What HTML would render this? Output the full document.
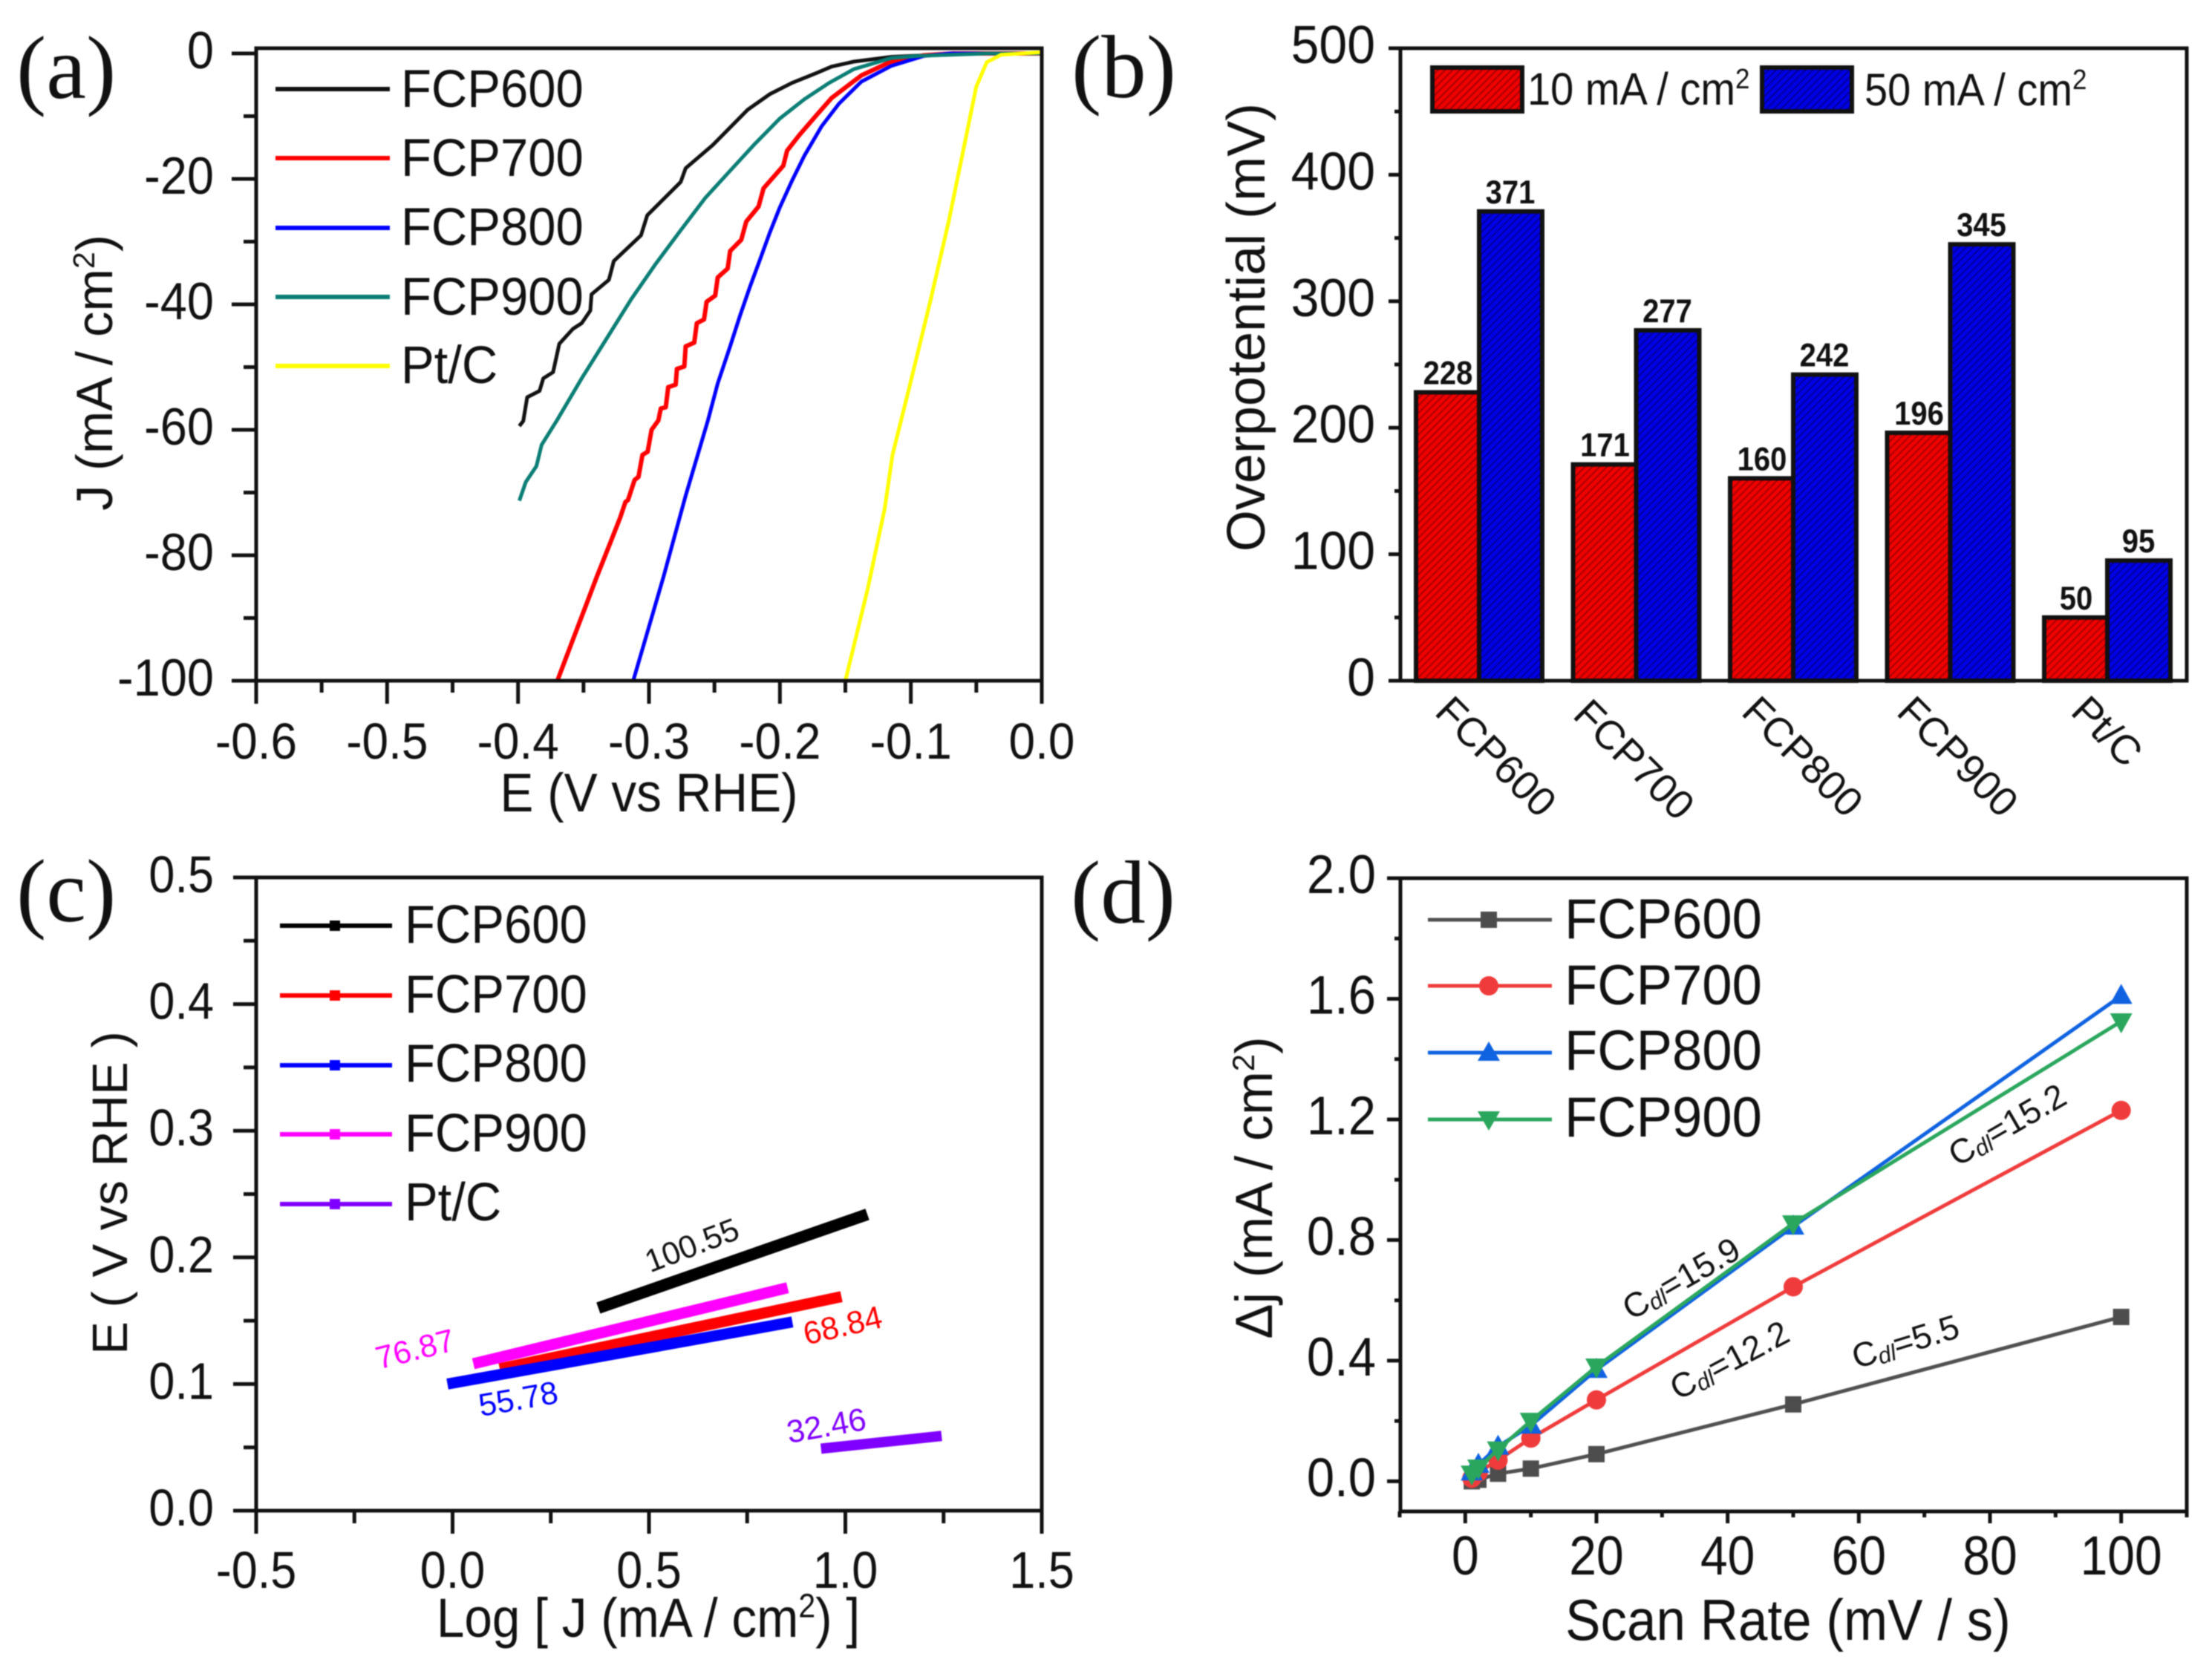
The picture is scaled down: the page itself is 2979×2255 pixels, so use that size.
<!DOCTYPE html>
<html lang="en">
<head>
<meta charset="utf-8">
<title>Electrocatalysis four-panel figure</title>
<style>
html,body{margin:0;padding:0;background:#fff;}
svg{display:block;filter:blur(0.7px);}
text{font-family:"Liberation Sans",sans-serif;fill:#111;}
.serif{font-family:"Liberation Serif",serif;font-size:121px;}
</style>
</head>
<body>
<svg id="figure" xmlns="http://www.w3.org/2000/svg" width="2979" height="2255" viewBox="0 0 2979 2255">
  <defs>
    <pattern id="hatch-red" width="7" height="7" patternUnits="userSpaceOnUse" patternTransform="rotate(45)">
      <rect width="7" height="7" fill="#f00000"></rect>
      <rect width="2" height="7" fill="#a80000"></rect>
    </pattern>
    <pattern id="hatch-blue" width="7" height="7" patternUnits="userSpaceOnUse" patternTransform="rotate(45)">
      <rect width="7" height="7" fill="#0000e6"></rect>
      <rect width="2" height="7" fill="#00009a"></rect>
    </pattern>
  </defs>
  <rect width="2979" height="2255" fill="#fff"></rect>

  <text class="serif" x="22" y="132">(a)</text>
  <text class="serif" x="1443" y="131">(b)</text>
  <text class="serif" x="22" y="1241">(c)</text>
  <text class="serif" x="1442" y="1243">(d)</text>

  <g id="panel-a"></g>
  <g id="panel-b"></g>
  <g id="panel-c"></g>
  <g id="panel-d"></g>

  <!-- Panel A static text and legend -->
  <text transform="translate(874,1093) scale(1,1.08)" text-anchor="middle" font-size="67.5">E (V vs RHE)</text>
  <text transform="translate(151,502) rotate(-90)" text-anchor="middle" font-size="69">J (mA / cm<tspan dy="-24" font-size="41">2</tspan><tspan dy="24">)</tspan></text>
  <g font-size="67" stroke-width="6">
    <line x1="371" x2="525" y1="120" y2="120" stroke="#111"></line>
    <text transform="translate(540,144) scale(1,1.06)">FCP600</text>
    <line x1="371" x2="525" y1="213" y2="213" stroke="#f00"></line>
    <text transform="translate(540,237) scale(1,1.06)">FCP700</text>
    <line x1="371" x2="525" y1="307" y2="307" stroke="#00f"></line>
    <text transform="translate(540,330) scale(1,1.06)">FCP800</text>
    <line x1="371" x2="525" y1="400" y2="400" stroke="#0a7d74"></line>
    <text transform="translate(540,424) scale(1,1.06)">FCP900</text>
    <line x1="371" x2="525" y1="493" y2="493" stroke="#ff0"></line>
    <text transform="translate(540,516) scale(1,1.06)">Pt/C</text>
  </g>

  <!-- Panel B static text and legend -->
  <text transform="translate(1703,441) rotate(-90)" text-anchor="middle" font-size="72">Overpotential (mV)</text>
  <g>
    <rect x="1929" y="91" width="121" height="59" fill="url(#hatch-red)" stroke="#111" stroke-width="6"></rect>
    <text transform="translate(2057,141) scale(1,1.09)" font-size="56">10 mA / cm<tspan dy="-20" font-size="35">2</tspan></text>
    <rect x="2373" y="91" width="121" height="59" fill="url(#hatch-blue)" stroke="#111" stroke-width="6"></rect>
    <text transform="translate(2511,142) scale(1,1.09)" font-size="56">50 mA / cm<tspan dy="-20" font-size="35">2</tspan></text>
  </g>
  <g font-size="55" text-anchor="middle" dominant-baseline="central">
    <text transform="translate(2015,1019) rotate(45)">FCP600</text>
    <text transform="translate(2201,1023) rotate(45)">FCP700</text>
    <text transform="translate(2428,1019) rotate(45)">FCP800</text>
    <text transform="translate(2637,1019) rotate(45)">FCP900</text>
    <text transform="translate(2838,985) rotate(45)">Pt/C</text>
  </g>

  <!-- Panel C static text and legend -->
  <text transform="translate(873,2205) scale(1,1.1)" text-anchor="middle" font-size="67.5">Log [ J (mA / cm<tspan dy="-24" font-size="41">2</tspan><tspan dy="24">) ]</tspan></text>
  <text transform="translate(171,1607) rotate(-90)" text-anchor="middle" font-size="67">E ( V vs RHE )</text>
  <g font-size="67" stroke-width="6">
    <line x1="377" x2="528" y1="1247" y2="1247" stroke="#000"></line>
    <rect x="444" y="1240" width="14" height="14" fill="#000"></rect>
    <text transform="translate(545,1270) scale(1,1.08)">FCP600</text>
    <line x1="377" x2="528" y1="1341" y2="1341" stroke="#f00"></line>
    <rect x="444" y="1334" width="14" height="14" fill="#f00"></rect>
    <text transform="translate(545,1364) scale(1,1.08)">FCP700</text>
    <line x1="377" x2="528" y1="1435" y2="1435" stroke="#00f"></line>
    <rect x="444" y="1428" width="14" height="14" fill="#00f"></rect>
    <text transform="translate(545,1457) scale(1,1.08)">FCP800</text>
    <line x1="377" x2="528" y1="1528" y2="1528" stroke="#f0f"></line>
    <rect x="444" y="1521" width="14" height="14" fill="#f0f"></rect>
    <text transform="translate(545,1551) scale(1,1.08)">FCP900</text>
    <line x1="377" x2="528" y1="1622" y2="1622" stroke="#7f00ff"></line>
    <rect x="444" y="1615" width="14" height="14" fill="#7f00ff"></rect>
    <text transform="translate(545,1644) scale(1,1.08)">Pt/C</text>
  </g>
  <g font-size="43" text-anchor="middle" dominant-baseline="central">
    <text transform="translate(932,1678) rotate(-21)" style="fill:#111">100.55</text>
    <text transform="translate(559,1818) rotate(-14)" style="fill:#f0f">76.87</text>
    <text transform="translate(1135,1786) rotate(-13)" style="fill:#f00">68.84</text>
    <text transform="translate(698,1885) rotate(-10)" style="fill:#00f">55.78</text>
    <text transform="translate(1113,1921) rotate(-10)" style="fill:#7f00ff">32.46</text>
  </g>

  <!-- Panel D static text and legend -->
  <text transform="translate(2408,2209) scale(1,1.1)" text-anchor="middle" font-size="71">Scan Rate (mV / s)</text>
  <text transform="translate(1713,1600) rotate(-90)" text-anchor="middle" font-size="70.5">Δj (mA / cm<tspan dy="-24" font-size="42">2</tspan><tspan dy="24">)</tspan></text>
  <g font-size="72.5" stroke-width="5">
    <line x1="1923" x2="2090" y1="1239" y2="1239" stroke="#505050"></line>
    <rect x="1994" y="1228" width="22" height="22" fill="#4d4d4d"></rect>
    <text transform="translate(2107,1264) scale(1,1.05)">FCP600</text>
    <line x1="1923" x2="2090" y1="1328" y2="1328" stroke="#ef3b3b"></line>
    <circle cx="2005" cy="1328" r="13" fill="#ef3b3b"></circle>
    <text transform="translate(2107,1353) scale(1,1.05)">FCP700</text>
    <line x1="1923" x2="2090" y1="1418" y2="1418" stroke="#0f62e0"></line>
    <polygon points="2005,1403 2020,1429 1990,1429" fill="#0f62e0"></polygon>
    <text transform="translate(2107,1441) scale(1,1.05)">FCP800</text>
    <line x1="1923" x2="2090" y1="1508" y2="1508" stroke="#2aa65d"></line>
    <polygon points="1990,1497 2020,1497 2005,1523" fill="#2aa65d"></polygon>
    <text transform="translate(2107,1531) scale(1,1.05)">FCP900</text>
  </g>
  <g font-size="46" text-anchor="middle" dominant-baseline="central">
    <text transform="translate(2264,1722) rotate(-30)">C<tspan dy="9" font-size="31" font-style="italic">dl</tspan><tspan dy="-9">=15.9</tspan></text>
    <text transform="translate(2703,1515) rotate(-30)">C<tspan dy="9" font-size="31" font-style="italic">dl</tspan><tspan dy="-9">=15.2</tspan></text>
    <text transform="translate(2329,1832) rotate(-28)">C<tspan dy="9" font-size="31" font-style="italic">dl</tspan><tspan dy="-9">=12.2</tspan></text>
    <text transform="translate(2566,1807) rotate(-17)">C<tspan dy="9" font-size="31" font-style="italic">dl</tspan><tspan dy="-9">=5.5</tspan></text>
  </g>
</svg>

<script>
/* ---------- Panel A data: E (V) and J (mA/cm2) ---------- */
const aFcp600E = [-0.399,-0.396,-0.393,-0.3836,-0.3807,-0.3732,-0.3685,-0.3581,-0.3514,-0.3448,-0.3439,-0.3306,-0.3269,-0.3061,-0.3013,-0.2758,-0.2720,-0.2513,-0.2305,-0.2248,-0.2078,-0.1908,-0.1718,-0.1605,-0.1435,-0.1151,-0.068,0];
const aFcp600J = [-59.4,-58.6,-54.8,-53.8,-51.8,-50.8,-46.3,-43.9,-43.0,-41.0,-38.4,-36.1,-33.1,-29.0,-25.8,-20.5,-18.3,-14.6,-10.2,-9.0,-6.5,-4.7,-3.1,-2.1,-1.3,-0.55,-0.1,0];
const aFcp700E = [-0.370,-0.360,-0.348,-0.340,-0.329,-0.322,-0.318,-0.316,-0.311,-0.308,-0.305,-0.301,-0.298,-0.2928,-0.2910,-0.2872,-0.2853,-0.2796,-0.2787,-0.2730,-0.2720,-0.2654,-0.2635,-0.2579,-0.2560,-0.2494,-0.2475,-0.2399,-0.2380,-0.2295,-0.2257,-0.2163,-0.2125,-0.1974,-0.1945,-0.1851,-0.1719,-0.1605,-0.1378,-0.1151,-0.09,-0.068,0];
const aFcp700J = [-100,-94.5,-87.9,-83.5,-77.7,-74,-71.5,-71.2,-68,-67.5,-64,-63.5,-60,-58.5,-56.6,-56.4,-53.2,-52.8,-50.3,-49.9,-46.7,-46.1,-43.0,-42.4,-39.6,-38.6,-35.7,-34.3,-31.5,-29.7,-26.8,-24.4,-21.5,-17.9,-15.5,-13.0,-9.8,-7.1,-3.5,-1.3,-0.3,0,0];
const aFcp800E = [-0.312,-0.289,-0.272,-0.2550,-0.2475,-0.2380,-0.2305,-0.2229,-0.2153,-0.2078,-0.2002,-0.1908,-0.1813,-0.1681,-0.1549,-0.1378,-0.1151,-0.09,-0.07,0];
const aFcp800J = [-100,-83.5,-70.5,-58.5,-52.6,-46.7,-41.8,-37.2,-32.9,-28.6,-24.6,-20.3,-16.3,-11.6,-8.0,-4.5,-2.0,-0.4,0,0];
const aFcp900E = [-0.399,-0.394,-0.386,-0.382,-0.3703,-0.3514,-0.3325,-0.3136,-0.2947,-0.2758,-0.2569,-0.2380,-0.2191,-0.2002,-0.1813,-0.1624,-0.1435,-0.1151,-0.095,-0.042,0];
const aFcp900J = [-71.3,-68.3,-65.8,-62.4,-58.5,-51.8,-45.5,-39.2,-33.5,-28.2,-23.0,-18.7,-14.4,-10.4,-7.3,-4.7,-2.5,-0.75,-0.4,0,0];
const aPtcE = [-0.150,-0.133,-0.120,-0.114,-0.101,-0.085,-0.071,-0.060,-0.050,-0.042,-0.031,0];
const aPtcJ = [-100,-85.4,-72.6,-64,-53.1,-39.4,-26.7,-15.5,-5.3,-1.4,-0.2,0.2];
const aXTicks = [-0.6,-0.5,-0.4,-0.3,-0.2,-0.1,0.0];
const aXTickLabels = ["-0.6","-0.5","-0.4","-0.3","-0.2","-0.1","0.0"];
const aXMinor = [-0.55,-0.45,-0.35,-0.25,-0.15,-0.05];
const aYTicks = [0,-20,-40,-60,-80,-100];
const aYTickLabels = ["0","-20","-40","-60","-80","-100"];
const aYMinor = [-10,-30,-50,-70,-90];

/* ---------- Panel B data ---------- */
const bCategories = ["FCP600","FCP700","FCP800","FCP900","Pt/C"];
const bSeries10 = [228,171,160,196,50];
const bSeries50 = [371,277,242,345,95];
const bYTicks = [0,100,200,300,400,500];
const bYTickLabels = ["0","100","200","300","400","500"];
const bYMinor = [50,150,250,350,450];

/* ---------- Panel C data: log J and E ---------- */
const cFcp600X = [0.371,1.056];
const cFcp600Y = [0.160,0.234];
const cFcp700X = [0.12,0.99];
const cFcp700Y = [0.112,0.169];
const cFcp800X = [-0.013,0.865];
const cFcp800Y = [0.100,0.149];
const cFcp900X = [0.053,0.853];
const cFcp900Y = [0.116,0.176];
const cPtcX = [0.938,1.245];
const cPtcY = [0.049,0.059];
const cXTicks = [-0.5,0,0.5,1.0,1.5];
const cXTickLabels = ["-0.5","0.0","0.5","1.0","1.5"];
const cXMinor = [-0.25,0.25,0.75,1.25];
const cYTicks = [0,0.1,0.2,0.3,0.4,0.5];
const cYTickLabels = ["0.0","0.1","0.2","0.3","0.4","0.5"];
const cYMinor = [0.05,0.15,0.25,0.35,0.45];

/* ---------- Panel D data ---------- */
const dScanRates = [1,2,5,10,20,50,100];
const dFcp600 = [0.0,0.005,0.025,0.042,0.09,0.255,0.545];
const dFcp700 = [0.01,0.03,0.07,0.143,0.27,0.645,1.23];
const dFcp800 = [0.03,0.055,0.115,0.185,0.37,0.845,1.61];
const dFcp900 = [0.025,0.045,0.105,0.2,0.38,0.855,1.525];
const dXTicks = [0,20,40,60,80,100];
const dXTickLabels = ["0","20","40","60","80","100"];
const dXMinor = [-10,10,30,50,70,90,110];
const dYTicks = [0,0.4,0.8,1.2,1.6,2.0];
const dYTickLabels = ["0.0","0.4","0.8","1.2","1.6","2.0"];
const dYMinor = [0.2,0.6,1.0,1.4,1.8];

/* ---------- Axis functions ---------- */
function linear(d0, d1, r0, r1) {
  return function (v) { return r0 + (v - d0) * (r1 - r0) / (d1 - d0); };
}
const xA = linear(-0.6, 0, 345, 1403);
const yA = linear(0, -100, 72, 917);
const xB = function (i) { return 1992 + i * 211.5; };
const yB = linear(0, 500, 917, 65);
const xC = linear(-0.5, 1.5, 345, 1403);
const yC = linear(0, 0.5, 2035, 1182);
const xD = linear(-10, 110, 1885, 2945);
const yD = linear(-0.1, 2.0, 2036, 1183);

const NS = "http://www.w3.org/2000/svg";
function make(tag, attrs, parent) {
  const e = document.createElementNS(NS, tag);
  for (const k in attrs) e.setAttribute(k, attrs[k]);
  parent.appendChild(e);
  return e;
}

function drawFrame(parent, prefix, x0, x1, y0, y1) {
  const f = make("rect", {x: x0, y: y0, width: x1 - x0, height: y1 - y0, fill: "none", stroke: "#111", "stroke-width": 5}, parent);
  
  
}

function drawXTicks(parent, prefix, scale, baseY, ticks, labels, minor, majorLen, minorLen, labelY, fontSize, stretch) {
  ticks.forEach(function (v, i) {
    const t = make("line", {x1: scale(v), x2: scale(v), y1: baseY, y2: baseY + majorLen, stroke: "#111", "stroke-width": 5}, parent);
    
    
    const l = make("text", {transform: "translate(" + scale(v) + "," + labelY + ") scale(1," + stretch + ")", "text-anchor": "middle", "font-size": fontSize}, parent);
    
    
    l.textContent = labels[i];
  });
  minor.forEach(function (v) {
    const t = make("line", {x1: scale(v), x2: scale(v), y1: baseY, y2: baseY + minorLen, stroke: "#111", "stroke-width": 5}, parent);
    
    
  });
}

function drawYTicks(parent, prefix, scale, baseX, ticks, labels, minor, majorLen, minorLen, labelX, fontSize, stretch) {
  ticks.forEach(function (v, i) {
    const t = make("line", {x1: baseX, x2: baseX - majorLen, y1: scale(v), y2: scale(v), stroke: "#111", "stroke-width": 5}, parent);
    
    
    const l = make("text", {transform: "translate(" + labelX + "," + (scale(v) + 20) + ") scale(1," + stretch + ")", "text-anchor": "end", "font-size": fontSize}, parent);
    
    
    l.textContent = labels[i];
  });
  minor.forEach(function (v) {
    const t = make("line", {x1: baseX, x2: baseX - minorLen, y1: scale(v), y2: scale(v), stroke: "#111", "stroke-width": 5}, parent);
    
    
  });
}

function pathOf(xs, ys, fx, fy) {
  return xs.map(function (v, i) { return (i ? "L" : "M") + fx(v).toFixed(1) + " " + fy(ys[i]).toFixed(1); }).join(" ");
}

function drawLine(parent, name, xs, ys, fx, fy, color, width) {
  const p = make("path", {d: pathOf(xs, ys, fx, fy), fill: "none", stroke: color, "stroke-width": width, "stroke-linejoin": "round"}, parent);
  
  
}

/* ---------- Panel A ---------- */
const gA = document.getElementById("panel-a");
drawLine(gA, "a-curve-fcp600", aFcp600E, aFcp600J, xA, yA, "#111", 5);
drawLine(gA, "a-curve-fcp700", aFcp700E, aFcp700J, xA, yA, "#f00", 6);
drawLine(gA, "a-curve-fcp800", aFcp800E, aFcp800J, xA, yA, "#00f", 5);
drawLine(gA, "a-curve-fcp900", aFcp900E, aFcp900J, xA, yA, "#0a7d74", 5);
drawLine(gA, "a-curve-ptc", aPtcE, aPtcJ, xA, yA, "#ff0", 5);
drawFrame(gA, "a", 345, 1403, 65, 917);
drawXTicks(gA, "a", xA, 917, aXTicks, aXTickLabels, aXMinor, 31, 16, 1022, 64, 1.08);
drawYTicks(gA, "a", yA, 345, aYTicks, aYTickLabels, aYMinor, 33, 17, 288, 65, 1.08);

/* ---------- Panel B ---------- */
const gB = document.getElementById("panel-b");
bCategories.forEach(function (cat, i) {
  const bar10 = make("rect", {x: xB(i) - 85, y: yB(bSeries10[i]), width: 85, height: yB(0) - yB(bSeries10[i]), fill: "url(#hatch-red)", stroke: "#111", "stroke-width": 6}, gB);
  
  
  const bar50 = make("rect", {x: xB(i), y: yB(bSeries50[i]), width: 85, height: yB(0) - yB(bSeries50[i]), fill: "url(#hatch-blue)", stroke: "#111", "stroke-width": 6}, gB);
  
  
  const val10 = make("text", {transform: "translate(" + (xB(i) - 42) + "," + (yB(bSeries10[i]) - 11) + ") scale(1,1.12)", "text-anchor": "middle", "font-size": 40, "font-weight": "bold"}, gB);
  
  
  val10.textContent = bSeries10[i];
  const val50 = make("text", {transform: "translate(" + (xB(i) + 42) + "," + (yB(bSeries50[i]) - 11) + ") scale(1,1.12)", "text-anchor": "middle", "font-size": 40, "font-weight": "bold"}, gB);
  
  
  val50.textContent = bSeries50[i];
});
drawFrame(gB, "b", 1886, 2945, 65, 917);
drawYTicks(gB, "b", yB, 1886, bYTicks, bYTickLabels, bYMinor, 16, 8, 1852, 68, 1.06);

/* ---------- Panel C ---------- */
const gC = document.getElementById("panel-c");
drawLine(gC, "c-fit-fcp600", cFcp600X, cFcp600Y, xC, yC, "#000", 16);
drawLine(gC, "c-fit-fcp700", cFcp700X, cFcp700Y, xC, yC, "#f00", 15);
drawLine(gC, "c-fit-fcp800", cFcp800X, cFcp800Y, xC, yC, "#00f", 15);
drawLine(gC, "c-fit-fcp900", cFcp900X, cFcp900Y, xC, yC, "#f0f", 15);
drawLine(gC, "c-fit-ptc", cPtcX, cPtcY, xC, yC, "#7f00ff", 14);
drawFrame(gC, "c", 345, 1403, 1182, 2035);
drawXTicks(gC, "c", xC, 2035, cXTicks, cXTickLabels, cXMinor, 31, 17, 2139, 63, 1.1);
drawYTicks(gC, "c", yC, 345, cYTicks, cYTickLabels, cYMinor, 31, 17, 288, 63, 1.1);

/* ---------- Panel D ---------- */
const gD = document.getElementById("panel-d");
drawLine(gD, "d-line-fcp600", dScanRates, dFcp600, xD, yD, "#505050", 5);
dScanRates.forEach(function (rate, i) {
  const m = make("rect", {x: xD(rate) - 11, y: yD(dFcp600[i]) - 11, width: 22, height: 22, fill: "#4d4d4d"}, gD);
  
  
});
drawLine(gD, "d-line-fcp700", dScanRates, dFcp700, xD, yD, "#ef3b3b", 5);
dScanRates.forEach(function (rate, i) {
  const m = make("circle", {cx: xD(rate), cy: yD(dFcp700[i]), r: 13, fill: "#ef3b3b"}, gD);
  
  
});
drawLine(gD, "d-line-fcp800", dScanRates, dFcp800, xD, yD, "#0f62e0", 5);
dScanRates.forEach(function (rate, i) {
  const cx = xD(rate), cy = yD(dFcp800[i]);
  const m = make("polygon", {points: cx + "," + (cy - 16) + " " + (cx + 15) + "," + (cy + 11) + " " + (cx - 15) + "," + (cy + 11), fill: "#0f62e0"}, gD);
  
  
});
drawLine(gD, "d-line-fcp900", dScanRates, dFcp900, xD, yD, "#2aa65d", 5);
dScanRates.forEach(function (rate, i) {
  const cx = xD(rate), cy = yD(dFcp900[i]);
  const m = make("polygon", {points: (cx - 15) + "," + (cy - 11) + " " + (cx + 15) + "," + (cy - 11) + " " + cx + "," + (cy + 16), fill: "#2aa65d"}, gD);
  
  
});
drawFrame(gD, "d", 1886, 2945, 1183, 2036);
drawXTicks(gD, "d", xD, 2036, dXTicks, dXTickLabels, dXMinor, 16, 8, 2121, 66, 1.12);
drawYTicks(gD, "d", yD, 1886, dYTicks, dYTickLabels, dYMinor, 18, 8, 1853, 67, 1.1);
</script>
</body>
</html>
